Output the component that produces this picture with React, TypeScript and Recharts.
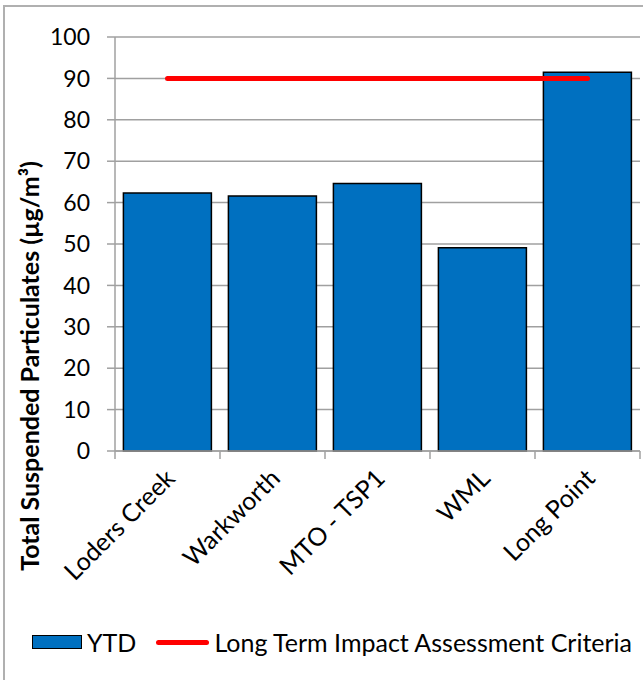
import {
  ComposedChart,
  Bar,
  Line,
  XAxis,
  YAxis,
  CartesianGrid,
  Legend,
} from "recharts";

const sites = ["Loders Creek", "Warkworth", "MTO - TSP1", "WML", "Long Point"];
const ytd = [62.3, 61.6, 64.6, 49.1, 91.5];
const criteria = [90, 90, 90, 90, 90];
const yTicks = [0, 10, 20, 30, 40, 50, 60, 70, 80, 90, 100];

const data = sites.map((site, i) => ({ site, ytd: ytd[i], criteria: criteria[i] }));

const FONT = "Lato, 'Open Sans', sans-serif";
const GRID = "#a0a0a0";

// category labels rotated -45deg, tick marks on the category boundaries
function SiteTick(props: any) {
  const { x, y, payload, index } = props;
  const half = payload && payload.offset ? payload.offset : 52.5;
  return (
    <g>
      <line x1={x - half} y1={y - 8} x2={x - half} y2={y} stroke={GRID} strokeWidth={1.5} />
      {index === sites.length - 1 ? (
        <line x1={x + half} y1={y - 8} x2={x + half} y2={y} stroke={GRID} strokeWidth={1.5} />
      ) : null}
      <text
        x={x + 9}
        y={y + 21}
        textAnchor="end"
        transform={`rotate(-45, ${x + 9}, ${y + 21})`}
        fontFamily={FONT}
        fontSize={25}
        fill="#000"
      >
        {payload.value}
      </text>
    </g>
  );
}

function LegendBox() {
  return (
    <div style={{ display: "flex", alignItems: "center", fontFamily: FONT, fontSize: 25, color: "#000", paddingLeft: 32 }}>
      <span style={{ width: 48, height: 12, background: "#0070c0", border: "1.5px solid #000", display: "inline-block" }} />
      <span style={{ marginLeft: 5 }}>YTD</span>
      <span style={{ marginLeft: 20, width: 53, height: 5, background: "#ff0000", borderRadius: 3, display: "inline-block" }} />
      <span style={{ marginLeft: 5 }}>Long Term Impact Assessment Criteria</span>
    </div>
  );
}

export default function App() {
  return (
    <div style={{ position: "absolute", left: 0, top: 0, width: 643, height: 680, overflow: "hidden", background: "#fff" }}>
      <div
        style={{
          position: "absolute",
          left: 3,
          top: 5,
          width: 700,
          height: 700,
          borderLeft: "2px solid #b0b0b0",
          borderTop: "2px solid #b0b0b0",
        }}
      />
      <ComposedChart
        width={643}
        height={680}
        data={data}
        margin={{ top: 37, right: 3, left: 0, bottom: 0 }}
        barCategoryGap="8%"
        style={{ position: "absolute", left: 0, top: 0 }}
      >
        <CartesianGrid vertical={false} stroke={GRID} strokeWidth={1.5} />
        <XAxis
          dataKey="site"
          height={229}
          interval={0}
          tickLine={false}
          axisLine={{ stroke: GRID, strokeWidth: 1.5 }}
          tick={<SiteTick />}
        />
        <YAxis
          width={115}
          domain={[0, 100]}
          ticks={yTicks}
          interval={0}
          tickSize={8}
          tickMargin={17}
          axisLine={{ stroke: GRID, strokeWidth: 1.5 }}
          tickLine={{ stroke: GRID, strokeWidth: 1.5 }}
          tick={{ fontFamily: FONT, fontSize: 23, fill: "#000" }}
          label={{
            content: () => (
              <text
                x={39}
                y={366}
                transform="rotate(-90, 39, 366)"
                textAnchor="middle"
                fontFamily={FONT}
                fontWeight="bold"
                fontSize={25}
                fill="#000"
              >
                Total Suspended Particulates (µg/m³)
              </text>
            ),
          }}
        />
        <Legend
          layout="horizontal"
          verticalAlign="middle"
          align="center"
          wrapperStyle={{ top: 627, left: 0, width: 643 }}
          content={() => <LegendBox />}
        />
        <Bar dataKey="ytd" name="YTD" fill="#0070c0" stroke="#000" strokeWidth={1.5} isAnimationActive={false} />
        <Line
          dataKey="criteria"
          name="Long Term Impact Assessment Criteria"
          stroke="#ff0000"
          strokeWidth={5}
          strokeLinecap="round"
          dot={false}
          activeDot={false}
          isAnimationActive={false}
        />
      </ComposedChart>
    </div>
  );
}
